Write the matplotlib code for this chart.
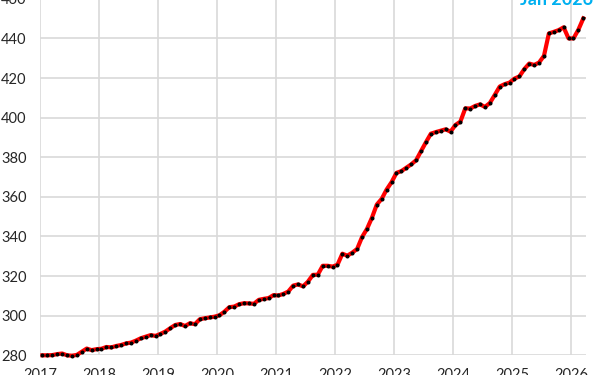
import matplotlib
matplotlib.use("Agg")
import matplotlib.pyplot as plt
import numpy as np

# Monthly index values, Jan 2017 .. Mar 2026
START_YEAR = 2017
VALUES = [
    # 2017
    280.0, 280.0, 280.1, 280.6, 280.9, 280.0, 279.8, 280.2, 281.8, 283.4, 282.6, 283.1,
    # 2018
    283.3, 284.2, 284.0, 284.7, 285.2, 286.0, 286.4, 287.4, 288.6, 289.4, 290.2, 289.8,
    # 2019
    290.8, 292.0, 293.7, 295.3, 295.8, 294.8, 296.2, 295.7, 298.2, 298.7, 299.1, 299.5,
    # 2020
    300.2, 302.0, 304.3, 304.6, 305.8, 306.3, 306.2, 306.0, 308.0, 308.5, 308.9, 310.4,
    # 2021
    310.2, 311.0, 312.2, 315.2, 315.8, 314.8, 317.2, 320.6, 320.7, 325.2, 325.2, 324.8,
    # 2022
    325.7, 331.3, 330.3, 331.8, 333.7, 339.7, 343.8, 349.4, 356.1, 359.0, 363.7, 367.4,
    # 2023
    372.1, 373.0, 374.7, 376.4, 378.5, 383.1, 387.6, 391.9, 392.7, 393.4, 394.1, 392.9,
    # 2024
    396.3, 398.0, 404.7, 404.6, 405.9, 406.7, 405.4, 407.4, 411.5, 415.7, 416.9, 417.7,
    # 2025
    419.7, 420.8, 424.5, 427.3, 426.6, 427.8, 431.2, 442.5, 443.3, 444.2, 445.6, 440.0,
    # 2026
    440.0, 444.4, 450.1,
]
YEAR_TICKS = list(range(2017, 2027))
Y_TICKS = list(range(280, 461, 20))
TITLE = "Jan 2026"

plt.rcParams['font.family'] = ['Lato', 'DejaVu Sans']

# points sit mid-month on a date axis
x = START_YEAR + (np.arange(len(VALUES)) + 0.5) / 12.0

fig = plt.figure(figsize=(6, 3.75), dpi=100)
ax = fig.add_axes([40 / 600, 19.7 / 375, 546 / 600, 356.5 / 375])

ax.plot(x, VALUES, color="#ff0000", lw=3.0, zorder=3, clip_on=False)
ax.plot(x, VALUES, ls="none", marker="o", ms=1.9, color="black", zorder=4, clip_on=False)

ax.set_xlim(2017, 2026.254)
ax.set_ylim(280, 460)
ax.set_xticks(YEAR_TICKS)
ax.set_yticks(Y_TICKS)
ax.grid(True, color="#d9d9d9", lw=1.2)
ax.set_axisbelow(True)
for s in ax.spines.values():
    s.set_visible(False)
ax.tick_params(axis="both", length=0, labelsize=10.5, colors="#262626")
ax.tick_params(axis="y", pad=9.5)
ax.tick_params(axis="x", pad=9)

fig.text(593 / 600, (375 - 5.0) / 375, TITLE, ha="right", va="baseline",
         color="#00b0f0", fontsize=13, fontweight="bold")

fig.savefig("out.png", dpi=100)
